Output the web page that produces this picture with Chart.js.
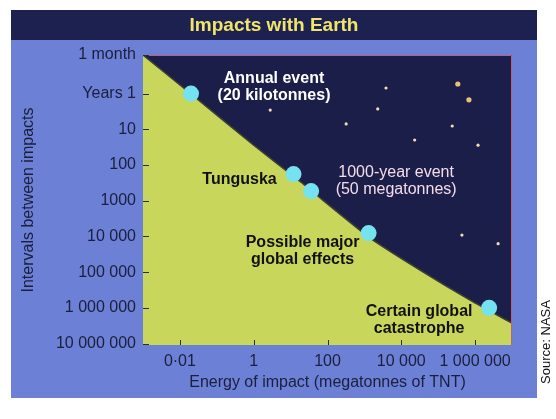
<!DOCTYPE html>
<html>
<head>
<meta charset="utf-8">
<title>Impacts with Earth</title>
<script src="https://cdn.jsdelivr.net/npm/chart.js@4.4.1/dist/chart.umd.min.js"></script>
<style>
  html, body { margin: 0; padding: 0; background: #ffffff; }
  #wrap { width: 556px; height: 419px; }
</style>
</head>
<body>
<div id="wrap"><canvas id="impactChart" width="556" height="419"></canvas></div>
<script>
/* ==========================================================================
   Impacts with Earth - energy vs interval (log / log)
   ========================================================================== */

// axis ranges + ticks
const X_MIN = 0.001;
const X_MAX = 1e7;
const Y_MIN = 1 / 12;          // 1 month
const Y_MAX = 1.1e7;
const X_TICKS = [0.01, 1, 100, 10000, 1000000];
const X_TICK_LABELS = ['0·01', '1', '100', '10 000', '1 000 000'];
const Y_TICKS = [1 / 12, 1, 10, 100, 1000, 10000, 100000, 1000000, 10000000];
const Y_TICK_LABELS = ['1 month', 'Years 1', '10', '100', '1000', '10 000', '100 000', '1 000 000', '10 000 000'];

// edge between the green "impact" area and the night sky
const BOUNDARY_ENERGY = [0.001, 0.02, 1, 18, 1400, 32000, 730000, 1e7];
const BOUNDARY_INTERVAL = [1 / 12, 1.03, 28, 290, 11000, 88000, 610000, 2.7e6];

// marked events (megatonnes, years)
const EVENT_NAMES = [
    ['Annual event', '(20 kilotonnes)'],
    ['Tunguska'],
    ['1000-year event', '(50 megatonnes)'],
    ['Possible major', 'global effects'],
    ['Certain global', 'catastrophe']
];
const EVENT_ENERGY = [0.02, 12, 36, 1300, 2.4e6];
const EVENT_INTERVAL = [1, 180, 540, 8100, 1.0e6];

// stars in the sky
const STAR_ENERGY = [2.8, 3850, 2300, 320, 240000, 23000, 1200000, 440000, 4200000];
const STAR_INTERVAL = [2.9, 0.7, 2.7, 7.1, 8.1, 20, 28, 9200, 16000];
const BIG_STAR_ENERGY = [340000, 680000];
const BIG_STAR_INTERVAL = [0.54, 1.5];

// colours
const C_PANEL = '#6c80d6';
const C_BAND = '#1d2150';
const C_SKY = '#1c1e4a';
const C_GROUND = '#c9d65c';
const C_INK = '#1b1e3c';
const C_DOT = '#74e2f0';
const FONT = "'Liberation Sans', Arial, Helvetica, sans-serif";

// label placement relative to each event dot (px)
const EVENT_LABEL_STYLE = [
    { dx: 83, dy: -6, color: '#ffffff', font: 'bold 16px ' + FONT },
    { dx: -54, dy: 6, color: '#111111', font: 'bold 16px ' + FONT },
    { dx: 85, dy: -10, color: '#f4dce8', font: '16px ' + FONT },
    { dx: -66, dy: 18, color: '#111111', font: 'bold 16px ' + FONT },
    { dx: -70, dy: 12, color: '#111111', font: 'bold 16px ' + FONT }
];

function pairs(xs, ys) { return xs.map((x, i) => ({ x: x, y: ys[i] })); }

/* --- background: panel, title band, sky --- */
const backdropPlugin = {
    id: 'backdrop',
    beforeDraw(chart) {
        const ctx = chart.ctx, a = chart.chartArea;
        ctx.save();
        ctx.fillStyle = '#ffffff';
        ctx.fillRect(0, 0, chart.width, chart.height);
        ctx.fillStyle = C_PANEL;
        ctx.fillRect(11, 10, 526, 388);
        ctx.fillStyle = C_BAND;
        ctx.fillRect(11, 10, 526, 30);
        ctx.fillStyle = '#f1e46a';
        ctx.font = 'bold 19px ' + FONT;
        ctx.textAlign = 'center';
        ctx.textBaseline = 'middle';
        ctx.fillText('Impacts with Earth', 274, 26);
        ctx.fillStyle = C_SKY;
        ctx.fillRect(a.left, a.top, a.right - a.left, a.bottom - a.top);
        ctx.restore();
    },
    afterDatasetsDraw(chart) {
        const ctx = chart.ctx, a = chart.chartArea;
        const xs = chart.scales.x, ys = chart.scales.y;
        ctx.save();
        // thin pink rim on top/right of sky
        ctx.strokeStyle = '#b8607e';
        ctx.lineWidth = 1;
        ctx.beginPath();
        ctx.moveTo(a.left, a.top + 0.5);
        ctx.lineTo(a.right - 0.5, a.top + 0.5);
        ctx.lineTo(a.right - 0.5, a.bottom);
        ctx.stroke();
        // inner tick marks
        ctx.strokeStyle = '#2a2e30';
        ctx.beginPath();
        Y_TICKS.forEach(v => {
            const y = Math.round(ys.getPixelForValue(v)) + 0.5;
            ctx.moveTo(a.left, y); ctx.lineTo(a.left + 6, y);
        });
        X_TICKS.forEach(v => {
            const x = Math.round(xs.getPixelForValue(v)) + 0.5;
            ctx.moveTo(x, a.bottom); ctx.lineTo(x, a.bottom - 5);
        });
        ctx.stroke();
        // event labels
        ctx.textAlign = 'center';
        ctx.textBaseline = 'middle';
        EVENT_NAMES.forEach((lines, i) => {
            const st = EVENT_LABEL_STYLE[i];
            const cx = xs.getPixelForValue(EVENT_ENERGY[i]) + st.dx;
            const cy = ys.getPixelForValue(EVENT_INTERVAL[i]) + st.dy;
            ctx.fillStyle = st.color;
            ctx.font = st.font;
            lines.forEach((t, j) => {
                ctx.fillText(t, cx, cy + (j - (lines.length - 1) / 2) * 17);
            });
        });
        ctx.restore();
    },
    afterDraw(chart) {
        const ctx = chart.ctx;
        ctx.save();
        ctx.translate(546, 342);
        ctx.rotate(-Math.PI / 2);
        ctx.fillStyle = '#111111';
        ctx.font = '13px ' + FONT;
        ctx.textAlign = 'center';
        ctx.textBaseline = 'middle';
        ctx.fillText('Source: NASA', 0, 0);
        ctx.restore();
    }
};

new Chart(document.getElementById('impactChart'), {
    type: 'scatter',
    data: {
        datasets: [
            { label: 'events', data: pairs(EVENT_ENERGY, EVENT_INTERVAL), order: 1,
              pointRadius: 8, pointBackgroundColor: C_DOT, pointBorderWidth: 0 },
            { label: 'stars', data: pairs(STAR_ENERGY, STAR_INTERVAL), order: 2,
              pointRadius: 1.6, pointBackgroundColor: '#f2dcb4', pointBorderWidth: 0 },
            { label: 'big stars', data: pairs(BIG_STAR_ENERGY, BIG_STAR_INTERVAL), order: 2,
              pointRadius: 2.6, pointBackgroundColor: '#e6c27e', pointBorderWidth: 0 },
            { label: 'boundary', data: pairs(BOUNDARY_ENERGY, BOUNDARY_INTERVAL), order: 3,
              showLine: true, tension: 0.2, pointRadius: 0, borderColor: '#3c4234', borderWidth: 1.5,
              backgroundColor: C_GROUND, fill: { value: Y_MAX } }
        ]
    },
    options: {
        responsive: false,
        animation: false,
        devicePixelRatio: 1,
        layout: { padding: { left: 11, right: 44, top: 55, bottom: 21 } },
        plugins: { legend: { display: false }, tooltip: { enabled: false } },
        scales: {
            x: {
                type: 'logarithmic', min: X_MIN, max: X_MAX,
                grid: { display: false, drawTicks: false }, border: { display: false },
                afterFit(s) { s.height = 53; },
                afterBuildTicks(s) { s.ticks = X_TICKS.map(v => ({ value: v })); },
                ticks: { autoSkip: false, maxRotation: 0, padding: 7, color: C_INK,
                         font: { family: FONT, size: 16 },
                         callback: (v, i) => X_TICK_LABELS[i] },
                title: { display: true, text: 'Energy of impact (megatonnes of TNT)', color: C_INK,
                         font: { family: FONT, size: 16 }, padding: { top: 0, bottom: 6 } }
            },
            y: {
                type: 'logarithmic', min: Y_MIN, max: Y_MAX, reverse: true,
                grid: { display: false, drawTicks: false }, border: { display: false },
                afterFit(s) { s.width = 132; },
                afterBuildTicks(s) { s.ticks = Y_TICKS.map(v => ({ value: v })); },
                ticks: { autoSkip: false, padding: 7, color: C_INK,
                         font: { family: FONT, size: 16 },
                         callback: (v, i) => Y_TICK_LABELS[i] },
                title: { display: true, text: 'Intervals between impacts', color: C_INK,
                         font: { family: FONT, size: 16 }, padding: { top: 8, bottom: 0 } }
            }
        }
    },
    plugins: [backdropPlugin]
});
</script>
</body>
</html>
